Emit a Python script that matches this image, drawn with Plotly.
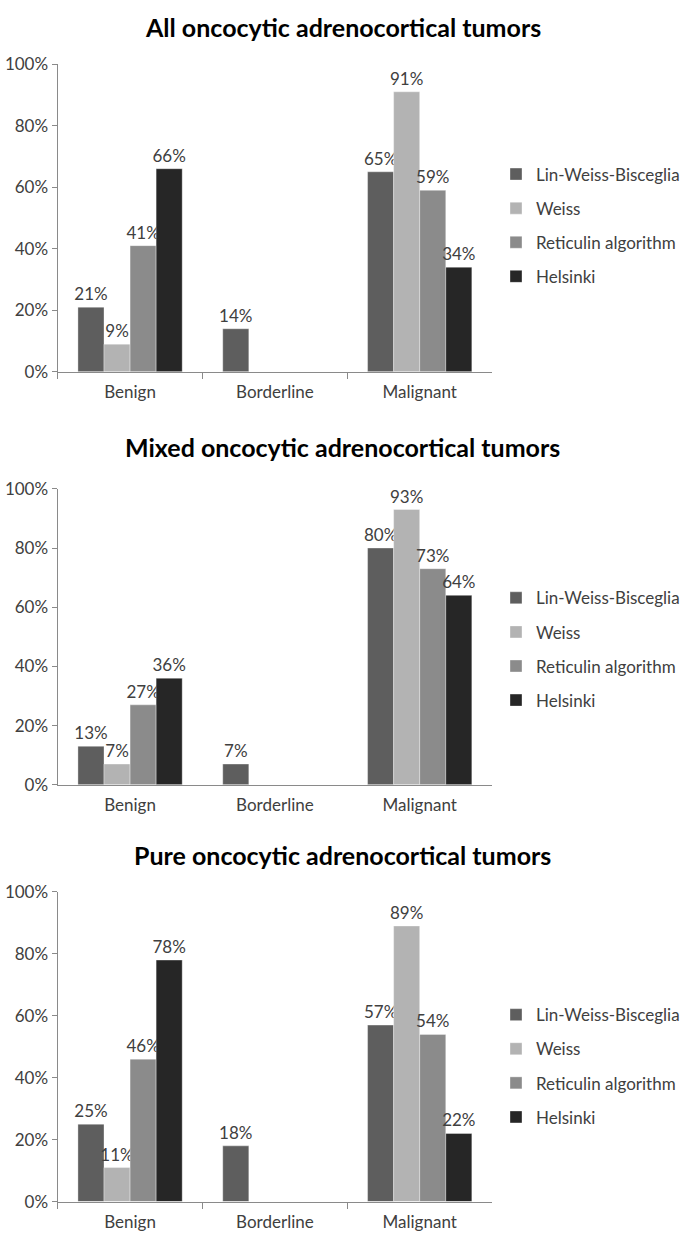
import plotly.graph_objects as go

categories = ["Benign", "Borderline", "Malignant"]
series_names = ["Lin-Weiss-Bisceglia", "Weiss", "Reticulin algorithm", "Helsinki"]
series_colors = ["#5e5e5e", "#b3b3b3", "#8b8b8b", "#262626"]

panel_titles = [
    "All oncocytic adrenocortical tumors",
    "Mixed oncocytic adrenocortical tumors",
    "Pure oncocytic adrenocortical tumors",
]

# values in percent (None = no bar / no label)
all_lwb = [21, 14, 65]
all_weiss = [9, None, 91]
all_ret = [41, None, 59]
all_hel = [66, None, 34]

mixed_lwb = [13, 7, 80]
mixed_weiss = [7, None, 93]
mixed_ret = [27, None, 73]
mixed_hel = [36, None, 64]

pure_lwb = [25, 18, 57]
pure_weiss = [11, None, 89]
pure_ret = [46, None, 54]
pure_hel = [78, None, 22]

y_tick_vals = [0, 20, 40, 60, 80, 100]
y_tick_text = ["0%", "20%", "40%", "60%", "80%", "100%"]

panels = [
    [all_lwb, all_weiss, all_ret, all_hel],
    [mixed_lwb, mixed_weiss, mixed_ret, mixed_hel],
    [pure_lwb, pure_weiss, pure_ret, pure_hel],
]

W, H = 685, 1248
FONT = "Lato, 'Open Sans', sans-serif"
TXT = "#404040"

# pixel layout for each panel: (plot top, plot bottom, title y, legend top, show category ticks)
px_layout = [
    (54, 367, 16, 148, True),
    (486, 787, 443, 579, False),
    (896, 1211, 858, 1003, True),
]
x_left, x_right = 58, 495

def py(p):
    return 1 - p / H

fig = go.Figure()
layout_updates = {}
annotations = []

for i, (vals, (top, bot, ty, ly, ticks)) in enumerate(zip(panels, px_layout)):
    n = i + 1
    xa = "x" if n == 1 else f"x{n}"
    ya = "y" if n == 1 else f"y{n}"
    leg = "legend" if n == 1 else f"legend{n}"
    for name, color, v in zip(series_names, series_colors, vals):
        fig.add_trace(go.Bar(
            x=categories, y=v, name=name,
            marker=dict(color=color, line=dict(color="rgba(255,255,255,0.35)", width=1)),
            text=[f"{a}%" if a is not None else "" for a in v],
            textposition="outside",
            textfont=dict(family=FONT, size=17, color=TXT),
            constraintext="none",
            cliponaxis=False,
            xaxis=xa, yaxis=ya, legend=leg, legendgroup=f"{n}-{name}",
            hoverinfo="skip",
        ))
    xkey = "xaxis" if n == 1 else f"xaxis{n}"
    ykey = "yaxis" if n == 1 else f"yaxis{n}"
    layout_updates[xkey] = dict(
        domain=[x_left / W, x_right / W], anchor=ya,
        showline=True, linecolor="#8a8a8a", linewidth=1.3,
        ticks="outside" if ticks else "", tickson="boundaries", ticklen=6, tickcolor="#8a8a8a",
        tickfont=dict(family=FONT, size=17, color=TXT), ticklabelstandoff=5,
        showgrid=False, fixedrange=True,
    )
    layout_updates[ykey] = dict(
        domain=[py(bot), py(top)], anchor=xa, range=[0, 100],
        tickvals=y_tick_vals, ticktext=y_tick_text,
        showline=True, linecolor="#8a8a8a", linewidth=1.3,
        ticks="outside", ticklen=5, tickcolor="#8a8a8a",
        tickfont=dict(family=FONT, size=17, color=TXT),
        showgrid=False, zeroline=False, fixedrange=True,
    )
    layout_updates[leg] = dict(
        x=499 / W, y=py(ly), xanchor="left", yanchor="top",
        font=dict(family=FONT, size=17, color=TXT),
        traceorder="grouped", tracegroupgap=9, itemwidth=30,
        bgcolor="rgba(0,0,0,0)",
    )
    annotations.append(dict(
        text=f"<b>{panel_titles[i]}</b>", x=345 / W, y=py(ty), xref="paper", yref="paper",
        xanchor="center", yanchor="middle", showarrow=False,
        font=dict(family=FONT, size=25, color="#000000"),
    ))

fig.update_layout(
    width=W, height=H,
    margin=dict(l=0, r=0, t=0, b=0),
    paper_bgcolor="white", plot_bgcolor="white",
    barmode="group", bargap=0.28, bargroupgap=0,
    annotations=annotations,
    showlegend=True,
    **layout_updates,
)

fig.write_html(
    "out.html",
    config={"displayModeBar": False},
    post_script="document.body.style.margin='0';document.body.style.overflow='hidden';",
)
